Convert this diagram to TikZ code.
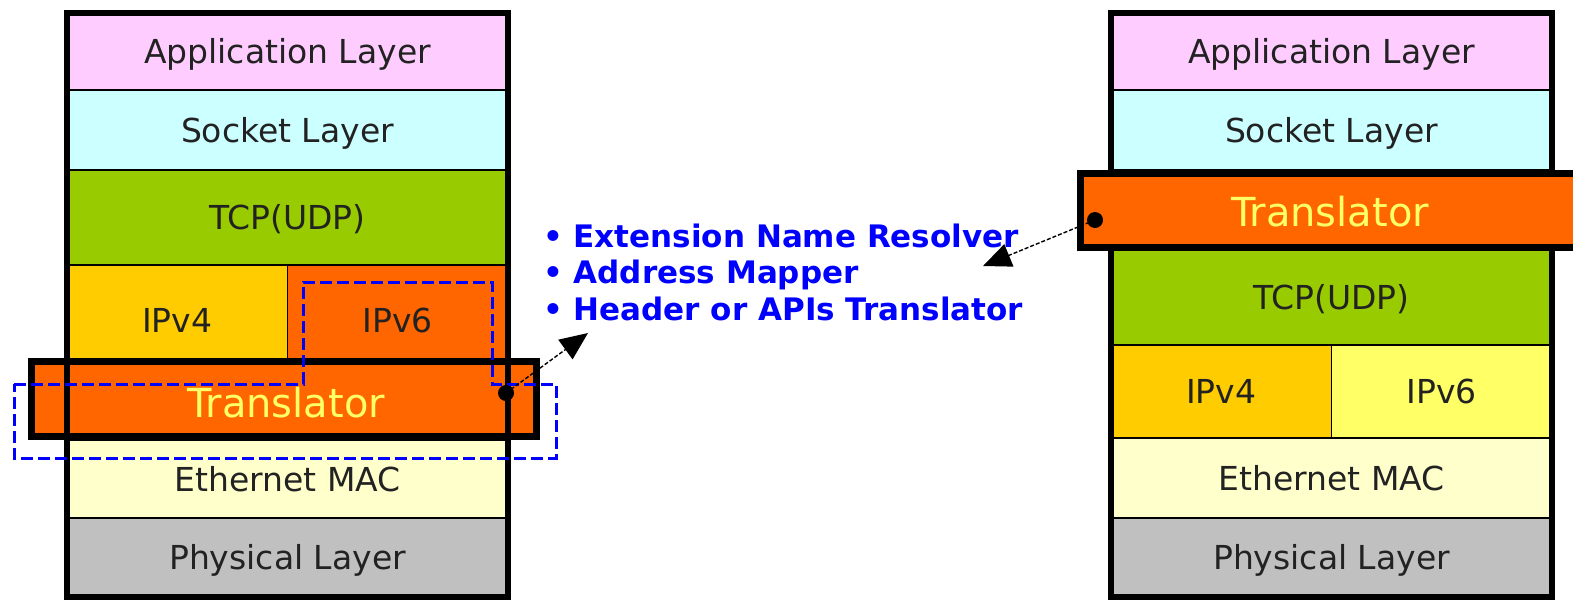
\documentclass[tikz,border=0pt]{standalone}
\usepackage{fontspec}
\setmainfont{DejaVu Sans}
\usetikzlibrary{arrows.meta}
\definecolor{appc}{HTML}{FFCCFF}
\definecolor{sockc}{HTML}{CCFFFF}
\definecolor{tcpc}{HTML}{99CC00}
\definecolor{ipfourc}{HTML}{FFCC00}
\definecolor{orangec}{HTML}{FF6600}
\definecolor{ipsixc}{HTML}{FFFF66}
\definecolor{ethc}{HTML}{FFFFCC}
\definecolor{physc}{HTML}{C0C0C0}
\definecolor{txtc}{HTML}{222222}
\definecolor{transtxt}{HTML}{FFFF66}
\definecolor{bluec}{HTML}{0000FF}
\begin{document}
\begin{tikzpicture}[x=1pt,y=-1pt,
  layer/.style={draw=black, line width=1.6pt, inner sep=0pt, text=txtc,
    font=\fontsize{33}{38}\selectfont, text height=24pt, text depth=0pt},
  fullrow/.style={layer, minimum width=441pt},
  halfrow/.style={layer, minimum width=220.5pt},
  transbox/.style={draw=black, line width=7pt, fill=orangec, inner sep=0pt},
  translabel/.style={text=transtxt, inner sep=0pt,
    font=\fontsize{40}{46}\selectfont, text height=29pt, text depth=0pt},
  stackframe/.style={draw=black, line width=6pt},
  blueline/.style={draw=bluec, line width=3pt, dash pattern=on 12pt off 5pt},
  dotnode/.style={circle, fill=black, minimum size=16pt, inner sep=0pt},
  pointer/.style={line width=1.4pt, dash pattern=on 4pt off 2pt,
    -{Triangle[length=28pt,width=24pt]}},
  bullettext/.style={text=bluec, align=left, inner sep=0pt,
    font=\fontsize{31}{36.5}\selectfont\bfseries}
]
\useasboundingbox (0,0) rectangle (1573,600);

% ---------- left stack ----------
\node[fullrow, fill=appc, minimum height=77pt] (lapp) at (287.5,51.5) {Application Layer};
\node[fullrow, fill=sockc, minimum height=80pt] (lsock) at (287.5,130) {Socket Layer};
\node[fullrow, fill=tcpc, minimum height=95pt] (ltcp) at (287.5,217.5) {TCP(UDP)};
\node[halfrow, fill=ipfourc, minimum height=110pt] (lipfour) at (177.25,320) {IPv4};
\node[halfrow, fill=orangec, minimum height=110pt] (lipsix) at (397.75,320) {IPv6};
\node[fullrow, fill=ethc, minimum height=78pt] (leth) at (287.5,479) {Ethernet MAC};
\node[fullrow, fill=physc, minimum height=79pt] (lphys) at (287.5,557.5) {Physical Layer};
\node[transbox, minimum width=505pt, minimum height=75pt] (ltrans) at (284,399) {};
\node[translabel] (ltranslabel) at (286,403) {Translator};
\draw[stackframe] (67,13) rectangle (508,597);

% dashed blue outline
\draw[blueline] (14,384) -- (303,384) -- (303,282) -- (492,282) -- (492,384)
  -- (556,384) -- (556,458) -- (14,458) -- cycle;

% ---------- right stack ----------
\node[fullrow, fill=appc, minimum height=77pt] (rapp) at (1331.5,51.5) {Application Layer};
\node[fullrow, fill=sockc, minimum height=80pt] (rsock) at (1331.5,130) {Socket Layer};
\node[fullrow, fill=tcpc, minimum height=95pt] (rtcp) at (1331.5,297.5) {TCP(UDP)};
\node[halfrow, fill=ipfourc, minimum height=93pt] (ripfour) at (1221.25,391.5) {IPv4};
\node[halfrow, fill=ipsixc, minimum height=93pt] (ripsix) at (1441.75,391.5) {IPv6};
\node[fullrow, fill=ethc, minimum height=80pt] (reth) at (1331.5,478) {Ethernet MAC};
\node[fullrow, fill=physc, minimum height=79pt] (rphys) at (1331.5,557.5) {Physical Layer};
\draw[stackframe] (1111,13) rectangle (1552,597);
\node[transbox, minimum width=500pt, minimum height=74pt] (rtrans) at (1330,210.5) {};
\node[translabel] (rtranslabel) at (1330,212) {Translator};

% ---------- bullets ----------
\node[bullettext, anchor=west] (bullets) at (543,272)
  {\textbullet\ Extension Name Resolver\\ \textbullet\ Address Mapper\\ \textbullet\ Header or APIs Translator};

% ---------- pointers ----------
\node[dotnode] (ldot) at (506,393) {};
\node[dotnode] (rdot) at (1095,220) {};
\coordinate (ltip) at (588,333);
\coordinate (rtip) at (983,266);
\draw[pointer] (ldot.center) -- (ltip);
\draw[pointer] (rdot.center) -- (rtip);
\end{tikzpicture}
\end{document}
